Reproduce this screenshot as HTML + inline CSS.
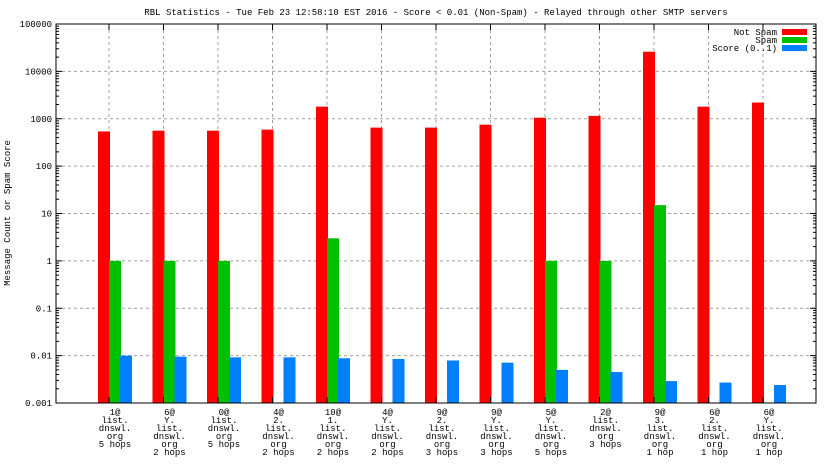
<!DOCTYPE html>
<html><head><meta charset="utf-8"><style>
body{margin:0;background:#fff}
svg{display:block;font-family:"Liberation Mono","DejaVu Sans Mono",monospace;font-size:9px}
</style></head><body>
<svg id="chart" width="832" height="468" viewBox="0 0 832 468" xmlns="http://www.w3.org/2000/svg">
<rect width="832" height="468" fill="#fff"/>
<text x="436" y="15" text-anchor="middle">RBL Statistics - Tue Feb 23 12:58:10 EST 2016 - Score &lt; 0.01 (Non-Spam) - Relayed through other SMTP servers</text>
<text transform="translate(10,213) rotate(-90)" text-anchor="middle">Message Count or Spam Score</text>
<g id="grid"></g><g id="bars"></g><g id="axes"></g><g id="labels"></g>
<g>
<text x="777" y="35" text-anchor="end">Not Spam</text><rect x="782" y="29" width="25" height="6" fill="#ff0000"/>
<text x="777" y="43" text-anchor="end">Spam</text><rect x="782" y="37" width="25" height="6" fill="#00c000"/>
<text x="777" y="51" text-anchor="end">Score (0..1)</text><rect x="782" y="45" width="25" height="6" fill="#0080ff"/>
</g>
</svg>
<script>
const categories=[["1@","list.","dnswl.","org","5 hops"],["6@","Y.","list.","dnswl.","org","2 hops"],["0@","list.","dnswl.","org","5 hops"],["4@","2.","list.","dnswl.","org","2 hops"],["10@","1.","list.","dnswl.","org","2 hops"],["4@","Y.","list.","dnswl.","org","2 hops"],["9@","2.","list.","dnswl.","org","3 hops"],["9@","Y.","list.","dnswl.","org","3 hops"],["5@","Y.","list.","dnswl.","org","5 hops"],["2@","list.","dnswl.","org","3 hops"],["9@","3.","list.","dnswl.","org","1 hop"],["6@","2.","list.","dnswl.","org","1 hop"],["6@","Y.","list.","dnswl.","org","1 hop"]];
const notSpam=[540,560,560,590,1800,650,650,750,1050,1150,26000,1800,2200];
const spam=[1,1,1,0,3,0,0,0,1,1,15,0,0];
const score=[0.0100,0.0095,0.0092,0.0092,0.0088,0.0085,0.0079,0.0071,0.0050,0.0045,0.0029,0.0027,0.0024];
const yTicks=["100000","10000","1000","100","10","1","0.1","0.01","0.001"];
const NS="http://www.w3.org/2000/svg";
const L=56,R=816,T=24,B=403;
const y=v=>B-(Math.log10(v)+3)*(B-T)/8;
const xc=i=>115+54.5*i;
function mk(p,tag,a){const e=document.createElementNS(NS,tag);for(const k in a)e.setAttribute(k,a[k]);document.getElementById(p).appendChild(e);return e;}
yTicks.forEach((t,k)=>{const v=parseFloat(t),yy=y(v);
 if(k>0&&k<yTicks.length-1){const g=mk("grid","line",{x1:L,x2:R,y1:yy,y2:yy,stroke:"#a0a0a0","stroke-dasharray":"3,3"});
 
 }
 const tx=mk("labels","text",{x:L-4,y:yy+3,"text-anchor":"end"});tx.textContent=t;
 
 
 [[L,L+6],[R,R-6]].forEach(([a,b])=>mk("axes","line",{x1:a,x2:b,y1:yy,y2:yy,stroke:"#000"}));
 if(k>0)for(let m=2;m<10;m++){const my=y(v*m);[[L,L+3],[R,R-3]].forEach(([a,b])=>mk("axes","line",{x1:a,x2:b,y1:my,y2:my,stroke:"#000"}));}
});
categories.forEach((c,i)=>{const cx=xc(i);
 const g=mk("grid","line",{x1:cx-6,x2:cx-6,y1:T,y2:B,stroke:"#a0a0a0","stroke-dasharray":"3,3"});
 
 
 mk("axes","line",{x1:cx-6,x2:cx-6,y1:B,y2:B-6,stroke:"#000"});
 mk("axes","line",{x1:cx-6,x2:cx-6,y1:T,y2:T+6,stroke:"#000"});
 [[notSpam,"#ff0000",-17,12,"bar-not-spam"],[spam,"#00c000",-6,12,"bar-spam"],[score,"#0080ff",5,12,"bar-score"]].forEach(([arr,col,off,w,nm])=>{
  const v=arr[i];if(!(v>0))return;const yy=Math.max(T,y(v));
  const r=mk("bars","rect",{x:cx+off,y:yy,width:w,height:B-yy,fill:col});
  
  
 });
 c.forEach((ln,j)=>{const t=mk("labels","text",{x:cx,y:415+j*8,"text-anchor":"middle"});t.textContent=ln;
  
  });
});
const fr=mk("axes","rect",{x:L,y:T,width:R-L,height:B-T,fill:"none",stroke:"#000"});


</script>
</body></html>
